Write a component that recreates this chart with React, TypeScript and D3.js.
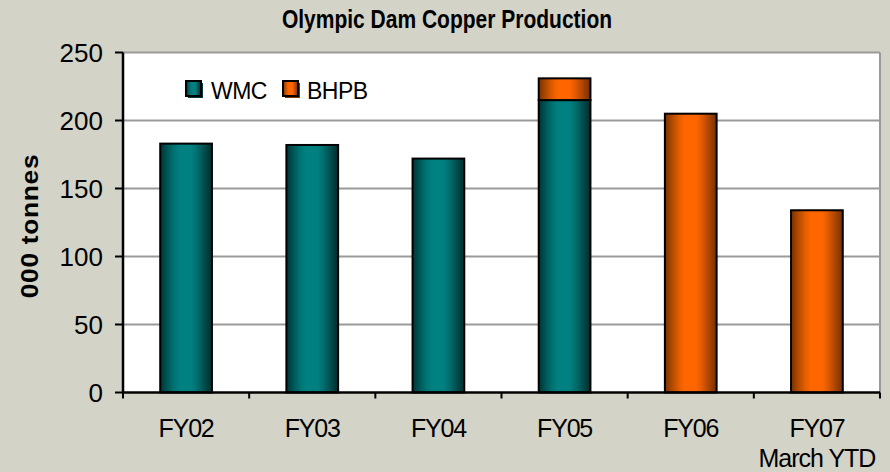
import React from 'react';
import * as d3 from 'd3';

const categories = ['FY02', 'FY03', 'FY04', 'FY05', 'FY06', 'FY07'];
const subLabels = ['', '', '', '', '', 'March YTD'];
const wmcValues = [183, 182, 172, 215, 0, 0];
const bhpbValues = [0, 0, 0, 16, 205, 134];
const yTicks = [0, 50, 100, 150, 200, 250];

const width = 890;
const height = 472;
const plot = { left: 123, right: 880, top: 52.5, bottom: 392.5 };
const font = 'Arial, "Liberation Sans", sans-serif';

// cylinder-ish shading, [offset, colour]
const tealStops: [number, string][] = [
  [0, '#003333'], [0.08, '#004848'], [0.18, '#006060'], [0.28, '#007575'], [0.38, '#008080'],
  [0.6, '#008080'], [0.7, '#007070'], [0.8, '#005a5a'], [0.9, '#004242'], [1, '#002e2e'],
];
const orangeStops: [number, string][] = [
  [0, '#7a3000'], [0.08, '#994000'], [0.18, '#c05000'], [0.28, '#e65e00'], [0.38, '#ff6600'],
  [0.6, '#ff6600'], [0.7, '#e55c00'], [0.8, '#c04d00'], [0.9, '#9a3e00'], [1, '#703000'],
];

const App = () => {
  const x = d3.scaleBand<string>()
    .domain(categories)
    .range([plot.left, plot.right])
    .paddingInner(0.59)
    .paddingOuter(0.295);

  const y = d3.scaleLinear()
    .domain([0, 250])
    .range([plot.bottom, plot.top]);

  const step = x.step();
  const bandStart = (plot.right - plot.left - step * categories.length) / 2 + plot.left;

  const stack = categories.map((c, i) => ({
    cat: c,
    wmc: wmcValues[i],
    bhpb: bhpbValues[i],
  }));

  return (
    <svg width={width} height={height} style={{ display: 'block', position: 'absolute', left: 0, top: 0 }}>
      <defs>
        <linearGradient id="teal" x1="0" x2="1" y1="0" y2="0">
          {tealStops.map(([o, c], i) => (
            <stop key={i} offset={o} stopColor={c} />
          ))}
        </linearGradient>
        <linearGradient id="orange" x1="0" x2="1" y1="0" y2="0">
          {orangeStops.map(([o, c], i) => (
            <stop key={i} offset={o} stopColor={c} />
          ))}
        </linearGradient>
      </defs>
      <rect x={0} y={0} width={width} height={height} fill="#d3d3c7" />
      <rect x={plot.left} y={plot.top} width={plot.right - plot.left} height={plot.bottom - plot.top} fill="#ffffff" />

      {/* gridlines */}
      {yTicks.filter((t) => t > 0).map((t) => (
        <line key={t} x1={plot.left} x2={plot.right} y1={y(t)} y2={y(t)} stroke="#9a9a9a" strokeWidth={2} />
      ))}
      <line x1={plot.right} x2={plot.right} y1={plot.top} y2={plot.bottom} stroke="#9a9a9a" strokeWidth={2} />

      {/* bars */}
      {stack.map((d) => {
        const bx = x(d.cat) as number;
        const bw = x.bandwidth();
        return (
          <g key={d.cat}>
            {d.wmc > 0 && (
              <rect x={bx} y={y(d.wmc)} width={bw} height={y(0) - y(d.wmc)}
                fill="url(#teal)" stroke="#000" strokeWidth={2} />
            )}
            {d.bhpb > 0 && (
              <rect x={bx} y={y(d.wmc + d.bhpb)} width={bw} height={y(d.wmc) - y(d.wmc + d.bhpb)}
                fill="url(#orange)" stroke="#000" strokeWidth={2} />
            )}
          </g>
        );
      })}

      {/* axes */}
      <line x1={plot.left} x2={plot.left} y1={plot.top} y2={plot.bottom + 1} stroke="#000" strokeWidth={2.5} />
      <line x1={plot.left} x2={plot.right} y1={plot.bottom} y2={plot.bottom} stroke="#000" strokeWidth={2.5} />
      {yTicks.map((t) => (
        <g key={t}>
          <line x1={plot.left - 8} x2={plot.left} y1={y(t)} y2={y(t)} stroke="#000" strokeWidth={2} />
          <text x={103} y={y(t)} dy="0.36em" textAnchor="end" fontFamily={font} fontSize={26} fill="#000">
            {t}
          </text>
        </g>
      ))}
      {d3.range(categories.length + 1).map((i) => (
        <line key={i} x1={bandStart + i * step} x2={bandStart + i * step} y1={plot.bottom} y2={plot.bottom + 6}
          stroke="#000" strokeWidth={2} />
      ))}
      {categories.map((c, i) => {
        const cx = (x(c) as number) + x.bandwidth() / 2;
        return (
          <g key={c}>
            <text x={cx} y={437} textAnchor="middle" fontFamily={font} fontSize={25} letterSpacing={-1.2} fill="#000">
              {c}
            </text>
            {subLabels[i] && (
              <text x={cx} y={467} textAnchor="middle" fontFamily={font} fontSize={25} letterSpacing={-1} fill="#000">
                {subLabels[i]}
              </text>
            )}
          </g>
        );
      })}

      {/* title & axis label */}
      <text transform="translate(447,28) scale(1,1.2)" textAnchor="middle" fontFamily={font} fontWeight="bold"
        fontSize={21} fill="#000">
        Olympic Dam Copper Production
      </text>
      <text transform="translate(38,226) rotate(-90) scale(1.1,1)" textAnchor="middle" fontFamily={font}
        fontWeight="bold" fontSize={24} letterSpacing={0.6} fill="#000">
        000 tonnes
      </text>

      {/* legend */}
      <rect x={188} y={83} width={15} height={15} fill="#003c3c" />
      <rect x={186} y={81} width={15} height={15} fill="url(#teal)" stroke="#000" strokeWidth={2} />
      <text x={211} y={99} fontFamily={font} fontSize={23} letterSpacing={-0.5} fill="#000">WMC</text>
      <rect x={285} y={83} width={15} height={15} fill="#7f3300" />
      <rect x={283} y={81} width={15} height={15} fill="url(#orange)" stroke="#000" strokeWidth={2} />
      <text x={307} y={99} fontFamily={font} fontSize={23} letterSpacing={-0.5} fill="#000">BHPB</text>
    </svg>
  );
};

export default App;
